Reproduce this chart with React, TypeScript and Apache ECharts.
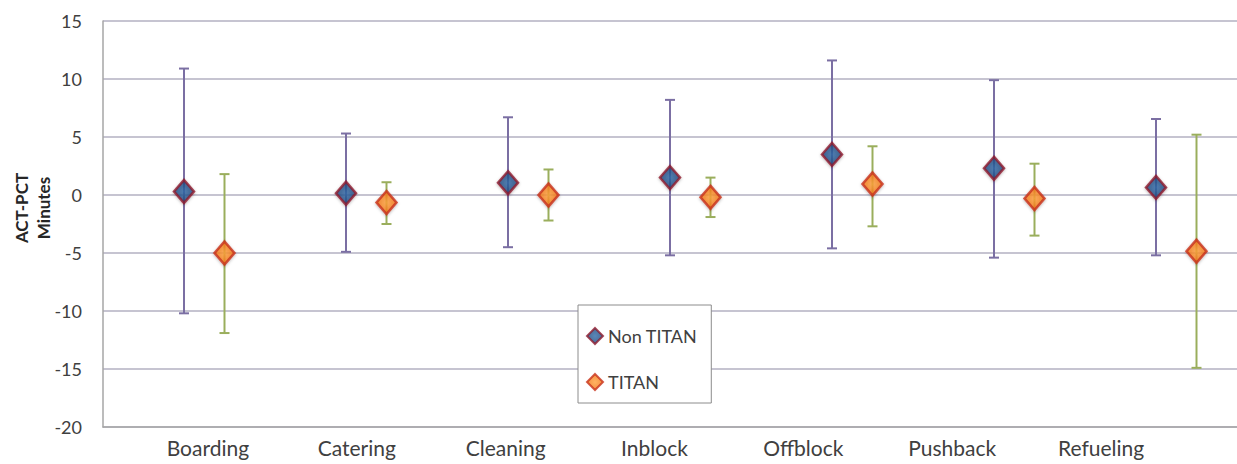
import React, { useEffect, useRef } from "react";
import * as echarts from "echarts";

const categories = ["Boarding", "Catering", "Cleaning", "Inblock", "Offblock", "Pushback", "Refueling"];
const nonTitanMean = [0.3, 0.15, 1.05, 1.5, 3.5, 2.3, 0.65];
const nonTitanHigh = [10.9, 5.3, 6.7, 8.2, 11.6, 9.9, 6.55];
const nonTitanLow = [-10.2, -4.9, -4.5, -5.2, -4.6, -5.4, -5.2];
const titanMean = [-5.0, -0.65, 0.0, -0.2, 0.95, -0.3, -4.85];
const titanHigh = [1.8, 1.1, 2.2, 1.5, 4.2, 2.7, 5.2];
const titanLow = [-11.9, -2.5, -2.2, -1.9, -2.7, -3.5, -14.9];
const yMin = -20;
const yMax = 15;
const yInterval = 5;
const titanOffset = 0.25;

const FONT = "Lato, 'Open Sans', sans-serif";

function errorBarRender(color: string) {
  return (params: any, api: any) => {
    const x = api.value(0);
    const lo = api.coord([x, api.value(1)]);
    const hi = api.coord([x, api.value(2)]);
    const half = 5;
    const style = { stroke: color, lineWidth: 2 };
    return {
      type: "group",
      children: [
        { type: "line", shape: { x1: lo[0], y1: lo[1], x2: hi[0], y2: hi[1] }, style },
        { type: "line", shape: { x1: hi[0] - half, y1: hi[1], x2: hi[0] + half, y2: hi[1] }, style },
        { type: "line", shape: { x1: lo[0] - half, y1: lo[1], x2: lo[0] + half, y2: lo[1] }, style },
      ],
    };
  };
}

export default function App() {
  const ref = useRef<HTMLDivElement>(null);
  useEffect(() => {
    if (!ref.current) return;
    const chart = echarts.init(ref.current, null, { renderer: "svg" });
    const nonTitanFill = new echarts.graphic.RadialGradient(0.5, 0.5, 0.6, [
      { offset: 0, color: "#2f69a8" },
      { offset: 1, color: "#1b3d6e" },
    ]);
    const titanFill = new echarts.graphic.RadialGradient(0.5, 0.5, 0.6, [
      { offset: 0, color: "#ffa13a" },
      { offset: 1, color: "#f06a0c" },
    ]);
    chart.setOption({
      animation: false,
      backgroundColor: "#ffffff",
      grid: { left: 103, top: 21, bottom: 37, width: 1135, containLabel: false },
      xAxis: [
        { type: "value", min: 0.5, max: 7.5, show: false, gridIndex: 0 },
        {
          type: "value",
          gridIndex: 0,
          position: "bottom",
          min: -0.7047,
          max: 6.913,
          axisLine: { show: true, onZero: false, lineStyle: { color: "#a6a6a6", width: 1.5 } },
          axisTick: { show: false },
          splitLine: { show: false },
          axisLabel: {
            customValues: categories.map((_, i) => i),
            formatter: (v: number) => categories[Math.round(v)] ?? "",
            fontFamily: FONT,
            fontSize: 21,
            color: "#404040",
            margin: 10,
          },
        },
      ],
      yAxis: {
        type: "value",
        min: yMin,
        max: yMax,
        interval: yInterval,
        axisLine: { show: true, onZero: false, lineStyle: { color: "#a6a6a6", width: 1.5 } },
        axisTick: { show: false },
        splitLine: { show: true, lineStyle: { color: "#b3b0c2", width: 1.5 } },
        axisLabel: { fontFamily: FONT, fontSize: 18, color: "#404040", margin: 21 },
      },
      legend: {
        data: ["Non TITAN", "TITAN"],
        orient: "vertical",
        left: 578,
        top: 305,
        width: 120,
        padding: [22, 14, 12, 8],
        itemGap: 28,
        itemWidth: 16,
        itemHeight: 16,
        backgroundColor: "#ffffff",
        borderColor: "#8c8c8c",
        borderWidth: 1,
        textStyle: { fontFamily: FONT, fontSize: 18, color: "#404040" },
      },
      graphic: [
        {
          type: "text",
          x: 32,
          y: 208,
          rotation: Math.PI / 2,
          style: {
            text: "ACT-PCT\nMinutes",
            font: `bold 17px ${FONT}`,
            fill: "#262626",
            textAlign: "center",
            textVerticalAlign: "middle",
            lineHeight: 22,
          },
        },
      ],
      series: [
        {
          name: "Non TITAN err",
          type: "custom",
          xAxisIndex: 0,
          renderItem: errorBarRender("#7b6fa3"),
          data: categories.map((_, i) => [i + 1, nonTitanLow[i], nonTitanHigh[i]]),
          z: 2,
        },
        {
          name: "TITAN err",
          type: "custom",
          xAxisIndex: 0,
          renderItem: errorBarRender("#9aae5c"),
          data: categories.map((_, i) => [i + 1 + titanOffset, titanLow[i], titanHigh[i]]),
          z: 2,
        },
        {
          name: "Non TITAN",
          type: "scatter",
          xAxisIndex: 0,
          symbol: "diamond",
          symbolSize: [20, 23],
          itemStyle: {
            color: nonTitanFill,
            borderColor: "#8e1b2e",
            borderWidth: 2.5,
            shadowColor: "rgba(0,0,0,0.3)",
            shadowBlur: 3,
            shadowOffsetY: 1,
          },
          data: categories.map((_, i) => [i + 1, nonTitanMean[i]]),
          z: 5,
        },
        {
          name: "TITAN",
          type: "scatter",
          xAxisIndex: 0,
          symbol: "diamond",
          symbolSize: [20, 23],
          itemStyle: {
            color: titanFill,
            borderColor: "#c8321c",
            borderWidth: 2.5,
            shadowColor: "rgba(0,0,0,0.3)",
            shadowBlur: 3,
            shadowOffsetY: 1,
          },
          data: categories.map((_, i) => [i + 1 + titanOffset, titanMean[i]]),
          z: 5,
        },
      ],
    });
    return () => chart.dispose();
  }, []);
  return <div ref={ref} style={{ width: 1237, height: 464, position: "absolute", left: 0, top: 0 }} />;
}
